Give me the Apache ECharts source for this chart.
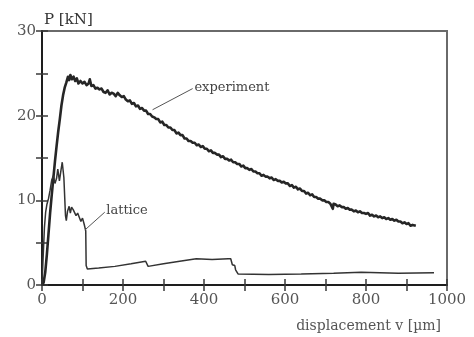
<!DOCTYPE html>
<html>
<head>
<meta charset="utf-8">
<script src="https://cdn.jsdelivr.net/npm/echarts@6/dist/echarts.min.js"></script>
<style>
  html, body { margin: 0; padding: 0; background: #fff; }
  #chart { width: 474px; height: 337px; }
</style>
</head>
<body>
<div id="chart"></div>
<script>
// Load–displacement response: measured curve and lattice-model prediction
// [displacement v in µm, load P in kN]
const experimentCurve = [
  [0,0],[4,0.3],[8,1.5],[12,3.6],[16,6.0],[20,8.5],[24,10.6],[28,12.6],[32,14.6],[36,16.4],
  [40,18.1],[44,19.6],[48,21.2],[52,22.4],[56,23.3],[60,23.9],[64,24.6],[67,24.2],[70,24.8],[74,24.3],
  [78,24.6],[82,24.1],[86,24.4],[90,23.8],[95,24.1],[100,23.8],[105,24.0],[110,23.6],[115,23.8],[118,24.3],
  [122,23.5],[127,23.6],[132,23.2],[137,23.3],[142,23.1],[147,23.2],[152,22.8],[157,22.7],[162,23.0],[167,22.5],
  [172,22.7],[177,22.6],[182,22.3],[187,22.7],[192,22.4],[197,22.2],[202,22.3],[207,21.9],[212,21.7],[217,21.8],
  [222,21.4],[227,21.5],[232,21.1],[237,21.2],[242,20.8],[247,20.9],[252,20.6],[257,20.6],[262,20.2],[267,20.2],
  [272,19.9],[277,19.8],[282,19.6],[287,19.6],[292,19.2],[297,19.3],[302,18.9],[307,18.9],[312,18.6],[317,18.6],
  [322,18.3],[327,18.3],[332,17.9],[337,18.0],[342,17.7],[347,17.7],[352,17.3],[357,17.3],[362,17.0],[367,17.0],
  [372,16.8],[377,16.8],[382,16.5],[387,16.6],[392,16.3],[397,16.4],[402,16.1],[407,16.1],[412,15.8],[417,15.9],
  [422,15.6],[427,15.6],[432,15.4],[437,15.4],[442,15.1],[447,15.2],[452,14.9],[457,14.9],[462,14.7],[467,14.8],
  [472,14.5],[477,14.5],[482,14.3],[487,14.3],[492,14.0],[497,14.1],[502,13.8],[507,13.8],[512,13.6],[517,13.7],
  [522,13.4],[527,13.4],[532,13.2],[537,13.2],[542,12.9],[547,13.0],[552,12.8],[557,12.8],[562,12.6],[567,12.7],
  [572,12.4],[577,12.5],[582,12.3],[587,12.3],[592,12.1],[597,12.2],[602,12.0],[607,12.0],[612,11.7],[617,11.8],
  [622,11.5],[627,11.6],[632,11.3],[637,11.4],[642,11.1],[647,11.1],[652,10.8],[657,10.9],[662,10.6],[667,10.7],
  [672,10.4],[677,10.4],[682,10.2],[687,10.2],[692,10.0],[697,10.0],[702,9.8],[707,9.8],[712,9.6],[716,9.7],
  [718,9.0],[720,9.6],[725,9.5],[730,9.3],[735,9.4],[740,9.2],[745,9.2],[750,9.0],[755,9.1],[760,8.9],
  [765,8.9],[770,8.7],[775,8.8],[780,8.6],[785,8.7],[790,8.5],[795,8.5],[800,8.4],[805,8.5],[810,8.2],
  [815,8.3],[820,8.1],[825,8.2],[830,8.0],[835,8.1],[840,7.9],[845,8.0],[850,7.8],[855,7.9],[860,7.7],
  [865,7.8],[870,7.6],[875,7.7],[880,7.5],[885,7.5],[890,7.3],[895,7.4],[900,7.2],[905,7.3],[910,7.0],
  [915,7.1],[919,6.9],[923,7.0]
];

const latticeCurve = [
  [0,0],[3,3.5],[6,6.8],[9,8.6],[12,9.5],[16,10.2],[20,11.2],[24,12.4],[28,12.9],[32,12.0],
  [36,12.6],[39,13.7],[43,12.3],[47,13.6],[50,14.5],[54,12.7],[58,8.2],[60,7.6],[63,8.7],[67,9.3],
  [70,8.5],[73,9.2],[77,8.9],[80,8.8],[84,8.2],[88,8.5],[92,8.0],[96,7.5],[100,7.9],[104,7.2],
  [108,6.4],[109,2.3],[112,1.9],[140,2.0],[180,2.2],[220,2.5],[256,2.8],[260,2.9],[262,2.2],[300,2.5],
  [340,2.8],[381,3.1],[420,3.0],[460,3.1],[466,3.1],[470,2.4],[476,2.3],[478,1.8],[484,1.3],[560,1.25],
  [640,1.3],[720,1.4],[788,1.5],[792,1.3],[880,1.4],[968,1.45]
];

// Leader lines from each curve to its caption
const experimentLeader = [[273, 20.7], [372, 23.2]];
const latticeLeader = [[106, 6.5], [155, 8.6]];

// Axis ranges: ticks every step, labels every labelStep
const xRange = { min: 0, max: 1000, step: 100, labelStep: 200 };
const yRange = { min: 0, max: 30, step: 5, labelStep: 10 };

const serif = 'DejaVu Serif';
const chart = echarts.init(document.getElementById('chart'), null, { renderer: 'canvas' });

function axisDef(range, inside, showLabel, margin) {
  return {
    type: 'value',
    min: range.min, max: range.max, interval: range.step,
    axisLine: { show: !inside, onZero: false, lineStyle: { color: '#1e1e1e', width: 2 } },
    axisTick: { show: true, inside: inside, length: 6, lineStyle: { color: '#3a3a3a', width: 1.5 } },
    axisLabel: {
      show: showLabel, margin: margin, color: '#555', fontFamily: serif, fontSize: 15,
      formatter: v => (v % range.labelStep === 0 ? String(v) : '')
    },
    splitLine: { show: false }
  };
}

function leader(points, text) {
  return {
    silent: true,
    symbol: 'none',
    lineStyle: { type: 'solid', color: '#555', width: 1 },
    label: {
      show: true, position: 'end', distance: 2, formatter: text,
      align: 'left', verticalAlign: 'middle',
      color: '#444', fontFamily: serif, fontSize: 13
    },
    data: [[{ coord: points[0] }, { coord: points[1] }]]
  };
}

chart.setOption({
  animation: false,
  backgroundColor: '#fff',
  grid: {
    left: 42, right: 27, top: 31, bottom: 52,
    show: true, borderColor: '#6a6a6a', borderWidth: 2, backgroundColor: 'transparent'
  },
  xAxis: [
    Object.assign(axisDef(xRange, false, true, 8), { position: 'bottom' }),
    Object.assign(axisDef(xRange, true, false, 8), { position: 'bottom' })
  ],
  yAxis: [
    Object.assign(axisDef(yRange, false, true, 6), { position: 'left' }),
    Object.assign(axisDef(yRange, true, false, 6), { position: 'left' })
  ],
  graphic: [
    { type: 'text', left: 44, top: 13,
      style: { text: 'P [kN]', fill: '#333', font: '15px "DejaVu Serif"' } },
    { type: 'text', right: 33, top: 319,
      style: { text: 'displacement v [µm]', fill: '#555', font: '14px "DejaVu Serif"' } }
  ],
  series: [
    {
      name: 'experiment', type: 'line', xAxisIndex: 0, yAxisIndex: 0,
      data: experimentCurve, showSymbol: false, smooth: false,
      lineStyle: { color: '#262626', width: 2.6, join: 'round' },
      markLine: leader(experimentLeader, 'experiment')
    },
    {
      name: 'lattice', type: 'line', xAxisIndex: 0, yAxisIndex: 0,
      data: latticeCurve, showSymbol: false, smooth: false,
      lineStyle: { color: '#333', width: 1.5 },
      markLine: leader(latticeLeader, 'lattice')
    }
  ]
});
</script>
</body>
</html>
